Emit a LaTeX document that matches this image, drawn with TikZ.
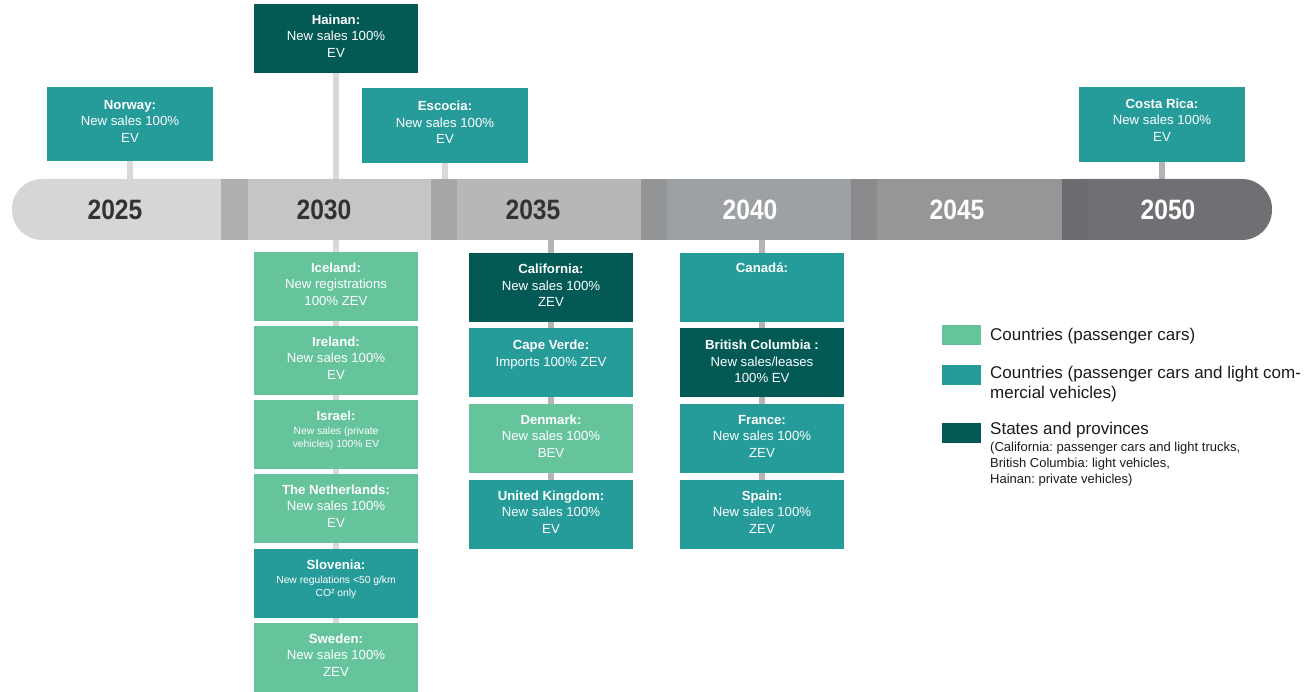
\documentclass[tikz,border=0pt]{standalone}
\usepackage{fontspec}
\usetikzlibrary{backgrounds}
\setmainfont{Liberation Sans}
\newfontfamily\yearfont{Liberation Sans}[FakeStretch=0.88]
\frenchspacing

\definecolor{cLight}{HTML}{65C49C}
\definecolor{cTeal}{HTML}{259B9A}
\definecolor{cDark}{HTML}{035A55}
\definecolor{connA}{HTML}{D9D9D9}
\definecolor{connB}{HTML}{B4B4B4}
\definecolor{segA}{HTML}{D6D6D6}
\definecolor{segB}{HTML}{C4C5C5}
\definecolor{segC}{HTML}{B6B7B8}
\definecolor{segD}{HTML}{9EA1A3}
\definecolor{segE}{HTML}{959695}
\definecolor{segF}{HTML}{6E7073}
\definecolor{strA}{HTML}{AEB0B1}
\definecolor{strB}{HTML}{A6A8A8}
\definecolor{strC}{HTML}{929495}
\definecolor{strD}{HTML}{8A8B8D}
\definecolor{strF}{HTML}{6A6C6F}
\definecolor{yearDark}{HTML}{333333}
\definecolor{legText}{HTML}{1A1A1A}

% #1 height, #2 first baseline, #3 title, #4 body
\newcommand\bxt[4]{\parbox[c][#1][t]{156pt}{\centering\fontsize{13.2}{16.3}\selectfont\rule{0pt}{#2}\textbf{#3}\\#4}}
% small body variant: #1 title, #2 body
\newcommand\bxs[2]{\parbox[c][68.7pt][t]{156pt}{\centering\fontsize{13.2}{16.3}\selectfont\rule{0pt}{20.5pt}\textbf{#1}\par\fontsize{10.3}{13.6}\selectfont #2\par}}

\tikzset{
  box/.style={anchor=north west, inner sep=0pt, outer sep=0pt, text=white, minimum width=164pt},
  topbox/.style={box, minimum width=166pt},
  connA/.style={draw=connA, line width=5.5pt},
  connB/.style={draw=connB, line width=5.5pt},
  year/.style={font=\yearfont\bfseries\fontsize{28}{30}\selectfont, inner sep=0pt},
  legsq/.style={anchor=north west, inner sep=0pt, minimum width=39pt, minimum height=20pt},
  legtxt/.style={anchor=west, inner sep=0pt, text=legText, align=left, font=\fontsize{17}{20}\selectfont},
  legsmall/.style={anchor=north west, inner sep=0pt, text=legText, align=left, font=\fontsize{13}{15.7}\selectfont},
}

\begin{document}
\begin{tikzpicture}[x=1pt,y=-1pt]
\useasboundingbox (0,0) rectangle (1312,692);
\coordinate (bartop) at (0,179);
\coordinate (barbot) at (0,240);

% ---------- boxes above the bar
\node[topbox, fill=cTeal] (norway) at (47,87) {\bxt{74.5pt}{22.5pt}{Norway:}{New sales 100\%\\EV}};
\node[box, fill=cDark] (hainan) at (254,4) {\bxt{68.7pt}{20.7pt}{Hainan:}{New sales 100\%\\EV}};
\node[topbox, fill=cTeal] (escocia) at (362,88) {\bxt{75pt}{23pt}{Escocia:}{New sales 100\%\\EV}};
\node[topbox, fill=cTeal] (costa) at (1079,86.7) {\bxt{75pt}{22pt}{Costa Rica:}{New sales 100\%\\EV}};

% ---------- 2030 column
\node[box, fill=cLight] (iceland) at (254,252) {\bxt{68.7pt}{20.5pt}{Iceland:}{New registrations\\100\% ZEV}};
\node[box, fill=cLight] (ireland) at (254,326) {\bxt{68.7pt}{20.5pt}{Ireland:}{New sales 100\%\\EV}};
\node[box, fill=cLight] (israel) at (254,400) {\bxs{Israel:}{New sales (private\\vehicles) 100\% EV}};
\node[box, fill=cLight] (nether) at (254,474) {\bxt{68.7pt}{20.5pt}{The Netherlands:}{New sales 100\%\\EV}};
\node[box, fill=cTeal] (slovenia) at (254,549) {\bxs{Slovenia:}{New regulations <50 g/km\\CO² only}};
\node[box, fill=cLight] (sweden) at (254,623) {\bxt{69pt}{20.5pt}{Sweden:}{New sales 100\%\\ZEV}};

% ---------- 2035 column
\node[box, fill=cDark] (calif) at (469,253) {\bxt{68.7pt}{21pt}{California:}{New sales 100\%\\ZEV}};
\node[box, fill=cTeal] (capev) at (469,328) {\bxt{68.7pt}{22pt}{Cape Verde:}{Imports 100\% ZEV}};
\node[box, fill=cLight] (denmark) at (469,404) {\bxt{68.7pt}{20.5pt}{Denmark:}{New sales 100\%\\BEV}};
\node[box, fill=cTeal] (uk) at (469,480) {\bxt{68.7pt}{20.5pt}{United Kingdom:}{New sales 100\%\\EV}};

% ---------- 2040 column
\node[box, fill=cTeal] (canada) at (680,253) {\bxt{68.7pt}{20pt}{Canadá:}{}};
\node[box, fill=cDark] (bc) at (680,328) {\bxt{68.7pt}{22pt}{British Columbia :}{New sales/leases\\100\% EV}};
\node[box, fill=cTeal] (france) at (680,404) {\bxt{68.7pt}{20.5pt}{France:}{New sales 100\%\\ZEV}};
\node[box, fill=cTeal] (spain) at (680,480) {\bxt{68.7pt}{20.5pt}{Spain:}{New sales 100\%\\ZEV}};

% ---------- connectors and timeline bar (behind)
\begin{scope}[on background layer]
  \draw[connA] (norway.south) -- (norway.south |- bartop);
  \draw[connA] (hainan.south) -- (iceland.north);
  \draw[connA] (escocia.south) -- (escocia.south |- bartop);
  \draw[connB] (costa.south) -- (costa.south |- bartop);
  \draw[connA] (iceland.south) -- (ireland.north);
  \draw[connA] (ireland.south) -- (israel.north);
  \draw[connA] (israel.south) -- (nether.north);
  \draw[connA] (nether.south) -- (slovenia.north);
  \draw[connA] (slovenia.south) -- (sweden.north);
  \draw[connB] (calif.north |- barbot) -- (calif.north);
  \draw[connB] (calif.south) -- (capev.north);
  \draw[connB] (capev.south) -- (denmark.north);
  \draw[connB] (denmark.south) -- (uk.north);
  \draw[connB] (canada.north |- barbot) -- (canada.north);
  \draw[connB] (canada.south) -- (bc.north);
  \draw[connB] (bc.south) -- (france.north);
  \draw[connB] (france.south) -- (spain.north);
  % bar
  \fill[segF, rounded corners=30pt] (1052,179) rectangle (1272,240);
  \fill[segA, rounded corners=30pt] (12,179) rectangle (275,240);
  \fill[strA] (221,179) rectangle (248,240);
  \fill[segB] (248,179) rectangle (431,240);
  \fill[strB] (431,179) rectangle (457,240);
  \fill[segC] (457,179) rectangle (641,240);
  \fill[strC] (641,179) rectangle (667,240);
  \fill[segD] (667,179) rectangle (851,240);
  \fill[strD] (851,179) rectangle (877,240);
  \fill[segE] (877,179) rectangle (1062,240);
  \fill[strF] (1062,179) rectangle (1088,240);
\end{scope}

% ---------- years
\node[year, text=yearDark] (y2025) at (115,210) {2025};
\node[year, text=yearDark] (y2030) at (324,210) {2030};
\node[year, text=yearDark] (y2035) at (533,210) {2035};
\node[year, text=white] (y2040) at (750,210) {2040};
\node[year, text=white] (y2045) at (957,210) {2045};
\node[year, text=white] (y2050) at (1168,210) {2050};

% ---------- legend
\node[legsq, fill=cLight] (lsq1) at (942,325) {};
\node[legsq, fill=cTeal] (lsq2) at (942,365) {};
\node[legsq, fill=cDark] (lsq3) at (942,423) {};
\node[legtxt] (ltx1) at (990,336) {Countries (passenger cars)};
\node[legtxt] (ltx2) at (990,384) {Countries (passenger cars and light com-\\mercial vehicles)};
\node[legtxt] (ltx3) at (990,430) {States and provinces};
\node[legsmall] (ltx4) at (990,442) {(California: passenger cars and light trucks,\\British Columbia: light vehicles,\\Hainan: private vehicles)};
\end{tikzpicture}
\end{document}
